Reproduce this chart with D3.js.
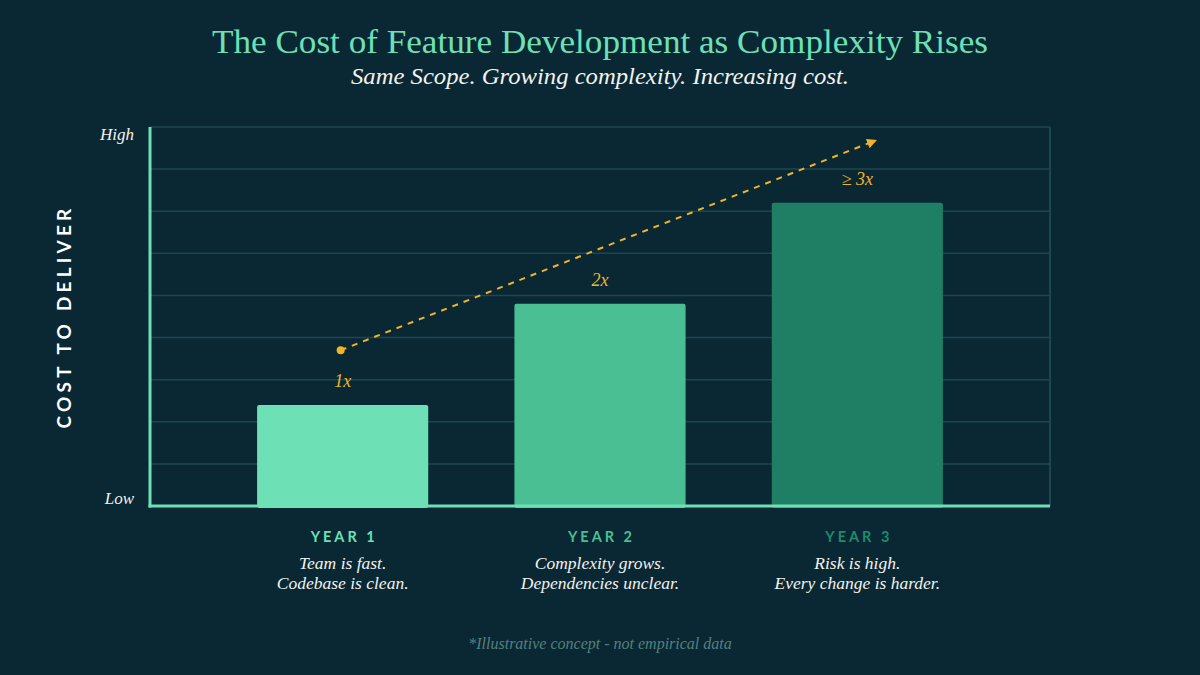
<!DOCTYPE html>
<html>
<head>
<meta charset="utf-8">
<script src="https://cdn.jsdelivr.net/npm/d3@7"></script>
<style>
  html, body { margin: 0; padding: 0; background: #0a2834; }
  svg { display: block; }
</style>
</head>
<body>
<svg id="chart" width="1200" height="675"></svg>
<script>
// Datos del gráfico
const years      = ["YEAR 1", "YEAR 2", "YEAR 3"];
const costs      = [2.4, 4.8, 7.2];
const multLabels = ["1x", "2x", "≥ 3x"];
const notes      = [
  ["Team is fast.", "Codebase is clean."],
  ["Complexity grows.", "Dependencies unclear."],
  ["Risk is high.", "Every change is harder."]
];
const barColors  = ["#6ee0b6", "#4bbf94", "#1f7f65"];
const yearColors = ["#6ee0b6", "#4bbf94", "#1f8a6c"];
const gridTicks  = [1, 2, 3, 4, 5, 6, 7, 8, 9];
const trendFrom  = 3.7;   // nivel al inicio de la flecha
const trendTo    = 8.65;  // nivel al final de la flecha

const svg = d3.select("#chart");
const W = 1200, H = 675;
const plotL = 150, plotR = 1050, plotT = 127, plotB = 506;

svg.append("rect").attr("width", W).attr("height", H).attr("fill", "#0a2834");

const x = d3.scaleBand().domain(years).range([214, 986]).paddingInner(0.335).paddingOuter(0.1675);
const y = d3.scaleLinear().domain([0, 9]).range([plotB, plotT]);

const serif = "'Liberation Serif', 'DejaVu Serif', serif";
const sans  = "'Lato', 'Open Sans', sans-serif";

// Títulos
svg.append("text")
  .attr("x", W / 2).attr("y", 53)
  .attr("text-anchor", "middle")
  .attr("fill", "#6ee0b6")
  .attr("font-family", serif)
  .attr("font-size", 34)
  .attr("textLength", 776)
  .attr("lengthAdjust", "spacingAndGlyphs")
  .text("The Cost of Feature Development as Complexity Rises");

svg.append("text")
  .attr("x", W / 2).attr("y", 84)
  .attr("text-anchor", "middle")
  .attr("fill", "#f2f2ee")
  .attr("font-family", serif)
  .attr("font-style", "italic")
  .attr("font-size", 23)
  .attr("textLength", 498)
  .attr("lengthAdjust", "spacingAndGlyphs")
  .text("Same Scope. Growing complexity. Increasing cost.");

// Rejilla
svg.append("g").selectAll("line")
  .data(gridTicks)
  .join("line")
  .attr("x1", plotL).attr("x2", plotR)
  .attr("y1", d => y(d)).attr("y2", d => y(d))
  .attr("stroke", "#1d4651")
  .attr("stroke-width", 1.5);

svg.append("line")
  .attr("x1", plotR).attr("x2", plotR)
  .attr("y1", plotT).attr("y2", plotB)
  .attr("stroke", "#1d4651")
  .attr("stroke-width", 2);

// Barras
svg.append("g").selectAll("rect")
  .data(costs)
  .join("rect")
  .attr("x", (d, i) => x(years[i]))
  .attr("width", x.bandwidth())
  .attr("y", d => y(d))
  .attr("height", d => plotB - y(d) + 2)
  .attr("rx", 2)
  .attr("fill", (d, i) => barColors[i]);

// Ejes
svg.append("line")
  .attr("x1", plotL).attr("x2", plotL)
  .attr("y1", plotT).attr("y2", plotB + 1.5)
  .attr("stroke", "#6ee0b6").attr("stroke-width", 3);
svg.append("line")
  .attr("x1", plotL - 1.5).attr("x2", plotR)
  .attr("y1", plotB).attr("y2", plotB)
  .attr("stroke", "#6ee0b6").attr("stroke-width", 3);

svg.append("text")
  .attr("x", 134).attr("y", y(9) + 13)
  .attr("text-anchor", "end")
  .attr("fill", "#f2f2ee")
  .attr("font-family", serif).attr("font-style", "italic").attr("font-size", 17)
  .text("High");
svg.append("text")
  .attr("x", 134).attr("y", y(0) - 2)
  .attr("text-anchor", "end")
  .attr("fill", "#f2f2ee")
  .attr("font-family", serif).attr("font-style", "italic").attr("font-size", 17)
  .text("Low");

svg.append("text")
  .attr("transform", `translate(71, ${(plotT + plotB) / 2}) rotate(-90)`)
  .attr("text-anchor", "middle")
  .attr("fill", "#ffffff")
  .attr("font-family", sans).attr("font-weight", 700).attr("font-size", 19)
  .attr("letter-spacing", 4.2)
  .text("COST TO DELIVER");

// Flecha de tendencia
const defs = svg.append("defs");
defs.append("marker")
  .attr("id", "arrow")
  .attr("viewBox", "0 -5 10 10")
  .attr("refX", 5).attr("refY", 0)
  .attr("markerWidth", 5).attr("markerHeight", 5)
  .attr("markerUnits", "strokeWidth")
  .attr("orient", "auto")
  .append("path")
    .attr("d", "M0,-5L10,0L0,5Z")
    .attr("fill", "#f0b429");

const cx = i => x(years[i]) + x.bandwidth() / 2;
const x0 = cx(0) - 2, x1 = cx(2) + 15;
svg.append("line")
  .attr("x1", x0).attr("y1", y(trendFrom))
  .attr("x2", x1).attr("y2", y(trendTo))
  .attr("stroke", "#f0b429").attr("stroke-width", 2)
  .attr("stroke-dasharray", "6,6")
  .attr("marker-end", "url(#arrow)");
svg.append("circle")
  .attr("cx", x0).attr("cy", y(trendFrom)).attr("r", 4)
  .attr("fill", "#f0b429");

// Etiquetas de multiplicador
svg.append("g").selectAll("text")
  .data(costs)
  .join("text")
  .attr("x", (d, i) => cx(i))
  .attr("y", d => y(d) - 18)
  .attr("text-anchor", "middle")
  .attr("fill", "#f0b429")
  .attr("font-family", serif).attr("font-style", "italic").attr("font-size", 18)
  .text((d, i) => multLabels[i]);

// Etiquetas de categoría
svg.append("g").selectAll("text")
  .data(years)
  .join("text")
  .attr("x", (d, i) => cx(i) + 1.5)
  .attr("y", 542)
  .attr("text-anchor", "middle")
  .attr("fill", (d, i) => yearColors[i])
  .attr("font-family", sans).attr("font-weight", 700).attr("font-size", 14.5)
  .attr("letter-spacing", 3)
  .text(d => d);

notes.forEach((lines, i) => {
  lines.forEach((t, j) => {
    svg.append("text")
      .attr("x", cx(i))
      .attr("y", 569 + j * 20)
      .attr("text-anchor", "middle")
      .attr("fill", "#f2f2ee")
      .attr("font-family", serif).attr("font-style", "italic").attr("font-size", 17.5)
      .text(t);
  });
});

svg.append("text")
  .attr("x", W / 2).attr("y", 649)
  .attr("text-anchor", "middle")
  .attr("fill", "#55807f")
  .attr("font-family", serif).attr("font-style", "italic").attr("font-size", 16)
  .text("*Illustrative concept - not empirical data");
</script>
</body>
</html>
